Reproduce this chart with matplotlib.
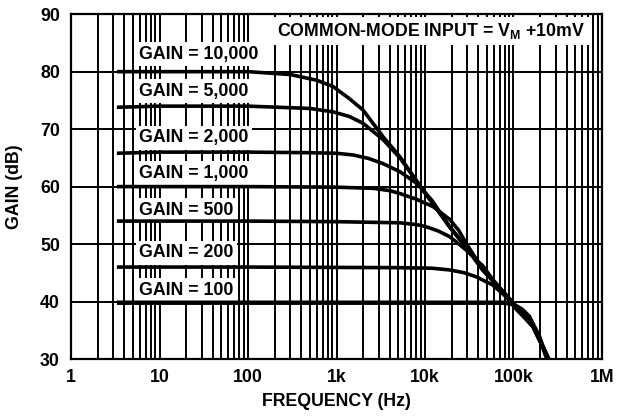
import matplotlib
matplotlib.use("Agg")
import matplotlib.pyplot as plt
from matplotlib.ticker import LogLocator, FixedLocator

plt.rcParams['font.family'] = ['Liberation Sans', 'DejaVu Sans']
plt.rcParams['font.weight'] = 'bold'
plt.rcParams['mathtext.fontset'] = 'custom'
plt.rcParams['mathtext.rm'] = 'Liberation Sans:bold'
plt.rcParams['mathtext.bf'] = 'Liberation Sans:bold'

# (frequency Hz, gain dB) per curve
f_10000 = [3.3, 10, 100, 300, 600, 915, 1400, 2000, 3350, 5200, 9500, 19000, 29000, 45000, 92000, 125000, 167000, 250000]
g_10000 = [80.0, 80.0, 80.0, 79.5, 78.5, 77.4, 75.3, 73.3, 68.7, 65.2, 59.4, 53.0, 49.5, 45.5, 40.3, 37.9, 35.6, 30.0]

f_5000 = [3.3, 10, 100, 500, 915, 1400, 2000, 3350, 5200, 9500, 19000, 29000, 45000, 92000, 125000, 167000, 250000]
g_5000 = [73.8, 74.0, 74.0, 73.6, 73.0, 72.2, 71.0, 68.2, 65.0, 59.4, 53.0, 49.5, 45.5, 40.3, 37.9, 35.6, 30.0]

f_2000 = [3.3, 10, 100, 500, 1000, 1550, 2300, 3350, 5200, 8000, 12000, 19000, 29000, 45000, 92000, 125000, 167000, 250000]
g_2000 = [65.8, 66.0, 66.0, 65.9, 65.8, 65.5, 64.9, 64.0, 62.6, 60.6, 57.6, 53.0, 49.5, 45.5, 40.3, 37.9, 35.6, 30.0]

f_1000 = [3.3, 100, 1000, 2600, 4000, 5200, 8000, 12400, 19000, 24000, 29000, 45000, 92000, 125000, 167000, 250000]
g_1000 = [60.0, 60.0, 59.9, 59.7, 59.3, 58.8, 57.8, 56.5, 54.3, 52.4, 50.2, 45.6, 40.3, 37.9, 35.6, 30.0]

f_500 = [3.3, 100, 1000, 5200, 8000, 10400, 14000, 19000, 29000, 45000, 60000, 92000, 125000, 167000, 250000]
g_500 = [54.0, 54.0, 53.9, 53.7, 53.4, 53.0, 52.3, 51.3, 49.0, 46.2, 43.6, 40.3, 37.9, 35.6, 30.0]

f_200 = [3.3, 100, 5000, 12000, 19000, 28000, 38000, 58000, 83000, 110000, 167000, 250000]
g_200 = [46.0, 46.0, 45.9, 45.8, 45.5, 45.0, 44.3, 42.9, 40.8, 38.5, 35.6, 30.0]

f_100 = [3.3, 1000, 80000, 100000, 125000, 150000, 195000, 240000]
g_100 = [39.8, 39.8, 39.8, 39.5, 38.6, 37.4, 33.9, 30.0]

curves = [(f_10000, g_10000, 2.6), (f_5000, g_5000, 2.6), (f_2000, g_2000, 2.6),
          (f_1000, g_1000, 2.6), (f_500, g_500, 2.6), (f_200, g_200, 2.6),
          (f_100, g_100, 3.2)]

labels = ['GAIN = 10,000', 'GAIN = 5,000', 'GAIN = 2,000', 'GAIN = 1,000',
          'GAIN = 500', 'GAIN = 200', 'GAIN = 100']
label_y = [83.0, 76.6, 68.5, 62.3, 55.9, 48.5, 42.0]
label_x = 5.9

x_ticks = [1, 10, 100, 1e3, 1e4, 1e5, 1e6]
x_ticklabels = ['1', '10', '100', '1k', '10k', '100k', '1M']
y_ticks = [30, 40, 50, 60, 70, 80, 90]

fs = 12.8

fig = plt.figure(figsize=(6.18, 4.17), dpi=100)
ax = fig.add_axes([0.1149, 0.139, 0.8592, 0.827])

ax.set_xscale('log')
ax.set_xlim(1, 1e6)
ax.set_ylim(30, 90)

ax.xaxis.set_major_locator(FixedLocator(x_ticks))
ax.xaxis.set_minor_locator(LogLocator(base=10, subs=range(2, 10), numticks=20))
ax.set_xticklabels(x_ticklabels)
ax.set_yticks(y_ticks)

ax.grid(True, which='both', axis='x', color='black', lw=1.4, zorder=1)
ax.grid(True, which='major', axis='y', color='black', lw=1.4, zorder=1)
ax.set_axisbelow(True)
ax.tick_params(which='both', length=0, labelsize=fs)
ax.tick_params(axis='x', pad=7)
ax.tick_params(axis='y', pad=8)
for lbl in ax.get_xticklabels() + ax.get_yticklabels():
    lbl.set_fontweight('bold')
for sp in ax.spines.values():
    sp.set_linewidth(1.6)

for f, g, lw in curves:
    ax.plot(f, g, color='black', lw=lw, zorder=4, solid_capstyle='butt')

for txt, y in zip(labels, label_y):
    ax.text(label_x, y, txt, fontsize=fs, fontweight='bold', ha='left', va='center',
            zorder=3, bbox=dict(facecolor='white', edgecolor='none', pad=2.5))

ax.text(0.968, 0.952, r'COMMON-MODE INPUT = V$_{\mathbf{M}}$ +10mV', transform=ax.transAxes,
        fontsize=fs, fontweight='bold', ha='right', va='center', zorder=3,
        bbox=dict(facecolor='white', edgecolor='none', pad=3))

ax.set_xlabel('FREQUENCY (Hz)', fontsize=fs, fontweight='bold', labelpad=5)
ax.set_ylabel('GAIN (dB)', fontsize=fs, fontweight='bold', labelpad=12)

fig.savefig('out.png', dpi=100)
